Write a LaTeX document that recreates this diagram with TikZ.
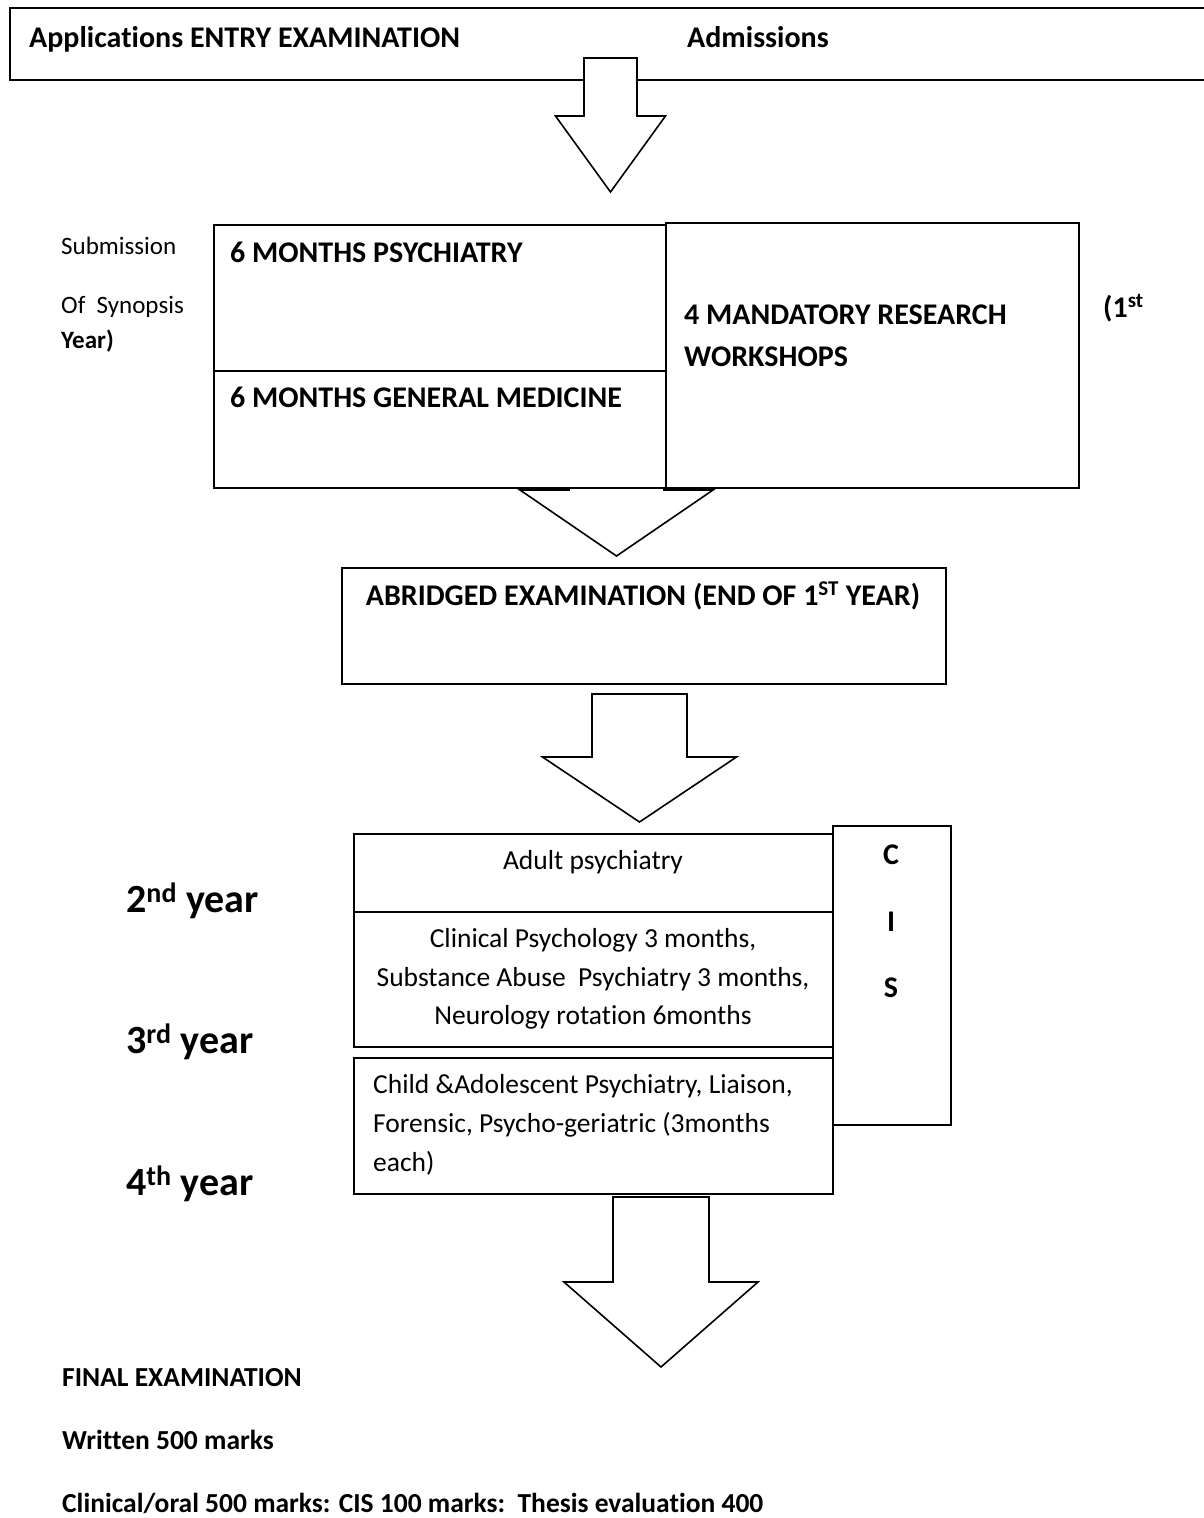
\documentclass[tikz,border=0pt]{standalone}
\usepackage{fontspec}
\setmainfont{Carlito}[Ligatures={NoCommon,NoRare}]
\usetikzlibrary{positioning}
\tikzstyle{box} = [draw, line width=2pt, fill=white, inner sep=0pt, anchor=north west]
\tikzstyle{arrowblock} = [draw, line width=1.6pt, fill=white, line join=miter]
\tikzstyle{headtxt} = [inner sep=0pt, anchor=base west, font=\fontsize{30}{36}\selectfont\bfseries]
\tikzstyle{bodytxt} = [inner sep=0pt, anchor=base west, font=\fontsize{27.5}{33}\selectfont]
\tikzstyle{sidetxt} = [inner sep=0pt, anchor=base west, font=\fontsize{25}{30}\selectfont]
\tikzstyle{yeartxt} = [inner sep=0pt, anchor=base west, font=\fontsize{40}{48}\selectfont\bfseries]
\tikzstyle{finaltxt} = [inner sep=0pt, anchor=base west, font=\fontsize{27.5}{33}\selectfont\bfseries]
% block arrow: centre x, shaft half, head half, top y, head y, tip y
\newcommand{\flowarrow}[6]{%
  \draw[arrowblock] (#1-#2,#4) -- (#1+#2,#4) -- (#1+#2,#5) -- (#1+#3,#5) -- (#1,#6) -- (#1-#3,#5) -- (#1-#2,#5) -- cycle;}

\begin{document}
\begin{tikzpicture}[x=1pt,y=-1pt]
  \useasboundingbox (0,0) rectangle (1204,1518);
  % Entry
  \node[box, minimum width=1215, minimum height=72] (entry) at (9,7) {};
  \node[headtxt] (appl) at (29,47) {Applications ENTRY EXAMINATION};
  \node[headtxt] (adm) at (687,47) {Admissions};
  \flowarrow{610.5}{26.5}{55}{58}{116}{192}
  % First year
  \flowarrow{616.5}{47.5}{96.5}{420}{490}{556}
  \node[box, minimum width=452, minimum height=146] (psy) at (213,224) {};
  \node[box, minimum width=452, minimum height=117] (gen) at (213,370) {};
  \node[box, minimum width=413, minimum height=265] (work) at (665,222) {};
  \node[headtxt] (psyt) at (230,262) {6 MONTHS PSYCHIATRY};
  \node[headtxt] (gent) at (230,407) {6 MONTHS GENERAL MEDICINE};
  \node[headtxt] (workt1) at (684,324) {4 MANDATORY RESEARCH};
  \node[headtxt] (workt2) at (684,366) {WORKSHOPS};
  \node[headtxt] (first) at (1103,317) {(1\textsuperscript{st}};
  \node[sidetxt] (subm) at (61,254) {Submission};
  \node[sidetxt] (syn) at (61,313) {Of\ \ Synopsis};
  \node[sidetxt, font=\fontsize{25}{30}\selectfont\bfseries] (yr) at (61,348) {Year)};
  % Abridged
  \node[box, minimum width=604, minimum height=116] (abr) at (341,567) {};
  \node[headtxt, anchor=base] (abrt) at (643,605) {ABRIDGED EXAMINATION (END OF 1\textsuperscript{ST} YEAR)};
  \flowarrow{639.5}{47.5}{97}{694}{757}{822}
  % Rotations
  \node[box, minimum width=118, minimum height=299] (cis) at (832,825) {};
  \node[headtxt, anchor=base] (cisc) at (891,864) {C};
  \node[headtxt, anchor=base] (cisi) at (891,931) {I};
  \node[headtxt, anchor=base] (ciss) at (891,997) {S};
  \node[box, minimum width=479, minimum height=78] (adult) at (353,833) {};
  \node[box, minimum width=479, minimum height=135] (clin) at (353,911) {};
  \node[box, minimum width=479, minimum height=136] (child) at (353,1057) {};
  \node[bodytxt, anchor=base] (adultt) at (593,869) {Adult psychiatry};
  \node[bodytxt, anchor=base] (clint1) at (593,947) {Clinical Psychology 3 months,};
  \node[bodytxt, anchor=base] (clint2) at (593,986) {Substance Abuse\ \ Psychiatry 3 months,};
  \node[bodytxt, anchor=base] (clint3) at (593,1024) {Neurology rotation 6months};
  \node[bodytxt] (childt1) at (373,1093) {Child \&Adolescent Psychiatry, Liaison,};
  \node[bodytxt] (childt2) at (373,1132) {Forensic, Psycho-geriatric (3months};
  \node[bodytxt] (childt3) at (373,1171) {each)};
  \node[yeartxt] (y2) at (126,912) {2\textsuperscript{nd} year};
  \node[yeartxt] (y3) at (126,1053) {3\textsuperscript{rd} year};
  \node[yeartxt] (y4) at (126,1195) {4\textsuperscript{th} year};
  % Final
  \flowarrow{661}{48}{97}{1197}{1282}{1367}
  \node[finaltxt] (fin) at (62,1386) {FINAL EXAMINATION};
  \node[finaltxt] (writ) at (62,1449) {Written 500 marks};
  \node[finaltxt] (oral) at (62,1512) {Clinical/oral 500 marks: CIS 100 marks:\ \ Thesis evaluation 400};
\end{tikzpicture}
\end{document}
